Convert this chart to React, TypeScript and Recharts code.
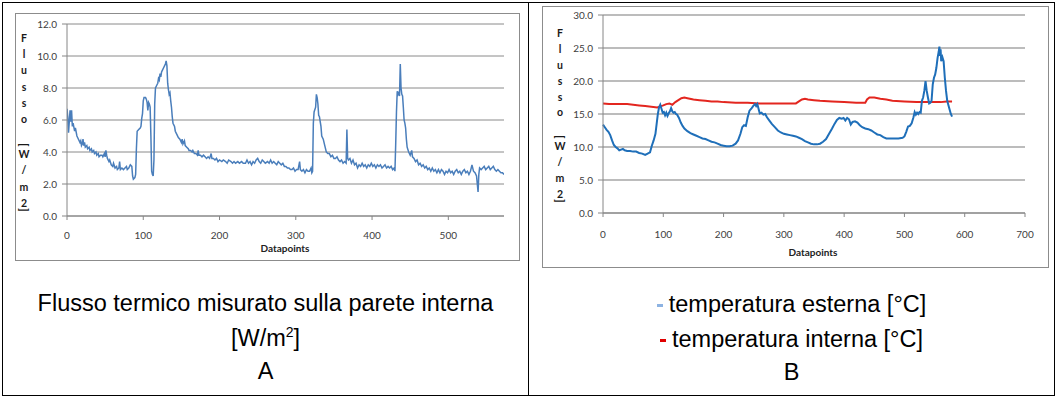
import React from 'react';
import { LineChart, Line, XAxis, YAxis, CartesianGrid } from 'recharts';

// Chart A: heat flux on the inner wall [W/m2], one reading per datapoint
const fluxPoints: [number, number][] = [
  [0, 6.7], [1, 6.2], [2, 5.2], [3, 5.9], [4, 6.6], [5, 5.9], [6, 6.6], [7, 5.6], [8, 5.8], [10, 5.3],
  [11, 5.5], [13, 5.0], [15, 4.8], [17, 4.6], [18, 4.7], [19, 4.4], [20, 4.5], [21, 4.8], [22, 4.4], [23, 4.6],
  [24, 4.3], [26, 4.4], [27, 4.2], [29, 4.3], [30, 4.1], [32, 4.2], [33, 4.0], [35, 4.1], [36, 3.9], [38, 4.0],
  [39, 3.8], [41, 3.9], [42, 3.7], [44, 3.8], [46, 3.8], [47, 3.7], [49, 3.9], [50, 3.7], [51, 4.1], [52, 3.8],
  [53, 3.6], [55, 3.4], [56, 3.5], [58, 3.2], [60, 3.1], [61, 3.3], [63, 3.0], [65, 3.1], [66, 2.9], [68, 3.0],
  [69, 3.4], [70, 2.9], [72, 3.0], [74, 2.9], [76, 3.0], [78, 3.1], [79, 2.9], [81, 3.0], [83, 3.2], [85, 3.1],
  [86, 2.5], [87, 2.3], [89, 2.4], [90, 2.6], [91, 4.2], [92, 5.3], [94, 5.4], [96, 5.5], [97, 5.6], [98, 6.1],
  [99, 6.4], [100, 7.2], [101, 7.4], [103, 7.4], [104, 7.3], [105, 7.1], [106, 6.6], [107, 7.1], [108, 7.0], [109, 6.8],
  [110, 5.0], [111, 2.8], [112, 2.6], [113, 2.5], [114, 3.5], [115, 7.0], [116, 8.0], [118, 8.2], [119, 8.3], [120, 8.6],
  [121, 8.5], [122, 8.9], [123, 8.7], [124, 9.0], [125, 9.1], [127, 9.3], [128, 9.4], [129, 9.5], [130, 9.7], [131, 9.4],
  [132, 8.3], [133, 7.9], [134, 7.6], [135, 7.7], [136, 7.2], [137, 6.8], [138, 6.2], [139, 5.8], [141, 5.6], [142, 5.3],
  [144, 5.1], [146, 4.9], [148, 4.8], [150, 4.6], [151, 4.8], [152, 4.5], [154, 4.7], [155, 4.4], [157, 4.3], [159, 4.2],
  [160, 4.1], [162, 4.1], [164, 4.0], [165, 4.1], [167, 3.9], [169, 3.9], [171, 3.8], [172, 4.1], [173, 3.8], [175, 3.8],
  [177, 3.7], [179, 3.8], [181, 3.7], [183, 3.6], [185, 3.7], [187, 3.6], [189, 3.9], [190, 3.6], [192, 3.6], [194, 3.5],
  [196, 3.6], [198, 3.4], [200, 3.5], [203, 3.4], [205, 3.5], [208, 3.4], [210, 3.3], [212, 3.5], [215, 3.4], [217, 3.3],
  [219, 3.4], [221, 3.3], [224, 3.4], [226, 3.3], [229, 3.4], [231, 3.3], [234, 3.3], [236, 3.5], [238, 3.3], [240, 3.4],
  [242, 3.2], [244, 3.4], [246, 3.3], [248, 3.5], [250, 3.6], [252, 3.4], [254, 3.3], [256, 3.5], [258, 3.4], [260, 3.3],
  [263, 3.4], [265, 3.3], [267, 3.5], [269, 3.3], [271, 3.4], [273, 3.3], [275, 3.2], [277, 3.4], [279, 3.3], [281, 3.2],
  [283, 3.3], [285, 3.1], [287, 3.1], [289, 3.0], [291, 3.0], [293, 2.9], [295, 2.9], [297, 3.0], [299, 2.8], [301, 2.9],
  [303, 2.9], [305, 3.4], [306, 2.9], [308, 2.8], [310, 2.9], [312, 2.7], [314, 2.9], [316, 2.8], [318, 2.8], [320, 3.0],
  [321, 2.7], [322, 2.8], [323, 5.8], [324, 6.5], [326, 6.8], [327, 7.6], [328, 7.4], [329, 7.0], [330, 6.3], [331, 6.2],
  [333, 5.6], [334, 5.0], [336, 4.8], [338, 4.4], [340, 4.0], [342, 3.9], [344, 3.9], [346, 3.7], [348, 3.8], [350, 3.6],
  [352, 3.6], [354, 3.7], [356, 3.5], [358, 3.4], [360, 3.5], [362, 3.3], [364, 3.4], [366, 3.3], [367, 5.4], [368, 3.6],
  [369, 3.5], [371, 3.6], [373, 3.3], [375, 3.5], [377, 3.2], [379, 3.3], [381, 3.0], [383, 3.2], [385, 3.1], [387, 3.3],
  [389, 3.1], [391, 3.2], [393, 3.0], [395, 3.2], [397, 3.1], [399, 3.3], [401, 3.1], [403, 3.2], [405, 3.0], [407, 3.2],
  [409, 3.1], [411, 3.2], [413, 3.0], [415, 3.1], [417, 3.2], [419, 3.0], [421, 3.1], [423, 3.0], [425, 3.1], [427, 2.9],
  [429, 3.0], [430, 2.8], [431, 4.5], [432, 6.5], [433, 7.8], [434, 7.6], [435, 7.7], [436, 7.5], [437, 9.5], [438, 8.0],
  [439, 7.6], [440, 7.5], [441, 6.8], [442, 6.0], [443, 5.8], [444, 5.5], [445, 4.8], [446, 4.3], [448, 4.0], [450, 3.8],
  [452, 4.1], [453, 3.7], [455, 3.6], [457, 3.4], [459, 3.5], [461, 3.2], [463, 3.3], [465, 3.1], [467, 3.2], [469, 3.0],
  [471, 3.1], [473, 2.9], [475, 3.0], [477, 2.8], [479, 3.0], [481, 2.8], [483, 2.9], [485, 2.7], [487, 2.9], [489, 2.7],
  [491, 2.9], [493, 2.8], [495, 2.6], [497, 2.8], [499, 2.7], [501, 2.9], [503, 2.7], [505, 2.8], [507, 2.6], [509, 2.8],
  [511, 2.9], [513, 2.7], [515, 2.8], [517, 2.6], [519, 2.8], [521, 2.9], [523, 2.7], [525, 2.8], [527, 2.6], [529, 2.8],
  [531, 3.2], [533, 2.8], [535, 2.7], [537, 2.5], [538, 2.0], [539, 1.5], [540, 2.6], [541, 3.0], [543, 2.9], [545, 3.0],
  [547, 3.1], [549, 2.9], [551, 3.0], [553, 3.1], [555, 2.9], [557, 3.0], [559, 3.1], [561, 2.9], [563, 2.8], [565, 2.9],
  [567, 2.8], [569, 2.7], [571, 2.7], [573, 2.6],
];

// Chart B: outdoor temperature [°C]
const esternaPoints: [number, number][] = [
  [0, 13.4], [3, 13.0], [6, 12.6], [9, 12.3], [12, 11.8], [15, 11.0], [18, 10.3], [21, 10.0], [24, 9.8], [27, 9.5],
  [30, 9.6], [33, 9.7], [36, 9.5], [40, 9.4], [45, 9.4], [50, 9.3], [55, 9.3], [60, 9.1], [65, 9.0], [70, 8.8],
  [74, 9.0], [78, 9.2], [81, 10.2], [84, 11.0], [87, 12.0], [89, 13.5], [91, 15.0], [93, 16.0], [95, 16.4], [97, 15.8],
  [99, 15.2], [101, 15.3], [103, 14.8], [105, 15.2], [107, 14.7], [109, 15.1], [111, 15.4], [113, 15.9], [115, 15.4], [117, 15.2],
  [119, 15.3], [121, 15.0], [123, 14.9], [126, 14.4], [129, 13.7], [132, 13.2], [135, 12.8], [140, 12.4], [145, 12.1], [150, 11.9],
  [155, 11.7], [160, 11.5], [165, 11.3], [170, 11.2], [175, 11.0], [180, 10.8], [185, 10.7], [190, 10.5], [195, 10.3], [200, 10.2],
  [205, 10.1], [210, 10.1], [215, 10.2], [220, 10.5], [224, 11.0], [228, 12.0], [231, 13.0], [234, 13.3], [237, 13.2], [240, 14.5],
  [243, 15.5], [246, 15.8], [249, 16.2], [252, 16.5], [254, 16.2], [256, 16.5], [258, 15.8], [260, 15.1], [263, 15.2], [266, 14.9],
  [269, 15.0], [272, 14.5], [276, 14.0], [280, 13.5], [285, 13.0], [290, 12.5], [295, 12.2], [300, 12.0], [305, 11.9], [310, 11.8],
  [315, 11.7], [320, 11.6], [325, 11.4], [330, 11.2], [335, 10.9], [340, 10.7], [345, 10.5], [350, 10.4], [355, 10.4], [360, 10.5],
  [365, 10.8], [370, 11.2], [375, 12.0], [380, 12.8], [384, 13.5], [388, 14.1], [392, 14.4], [396, 14.3], [399, 14.4], [402, 14.0],
  [405, 14.4], [408, 14.2], [411, 13.4], [414, 13.8], [418, 13.9], [422, 13.7], [426, 13.3], [430, 13.0], [435, 12.8], [440, 12.7],
  [445, 12.5], [450, 12.2], [455, 11.9], [460, 11.8], [465, 11.5], [470, 11.3], [480, 11.3], [490, 11.3], [497, 11.4], [500, 11.6],
  [503, 12.3], [506, 13.1], [509, 13.2], [512, 13.6], [515, 14.5], [517, 15.3], [519, 14.9], [521, 15.2], [523, 15.0], [525, 15.3],
  [527, 15.2], [529, 17.0], [531, 17.5], [533, 18.5], [535, 20.0], [537, 18.5], [539, 17.5], [541, 16.6], [543, 16.7], [545, 17.0],
  [547, 19.5], [549, 20.5], [551, 21.0], [553, 22.0], [555, 23.5], [557, 24.5], [558, 25.2], [559, 23.8], [560, 24.8], [561, 23.0],
  [563, 23.6], [565, 23.0], [567, 20.5], [569, 18.5], [571, 17.0], [574, 16.0], [577, 15.0], [579, 14.6],
];

// Chart B: indoor temperature [°C]
const internaPoints: [number, number][] = [
  [0, 16.6], [10, 16.5], [20, 16.5], [30, 16.5], [40, 16.5], [50, 16.4], [60, 16.3], [70, 16.2], [80, 16.1], [90, 16.0],
  [100, 16.3], [105, 16.5], [110, 16.6], [115, 16.4], [120, 16.8], [125, 17.1], [130, 17.4], [135, 17.5], [140, 17.4], [150, 17.2],
  [160, 17.1], [170, 17.0], [180, 16.9], [190, 16.9], [200, 16.8], [220, 16.7], [240, 16.7], [260, 16.6], [280, 16.6], [300, 16.6],
  [320, 16.6], [325, 16.9], [330, 17.2], [335, 17.3], [340, 17.2], [350, 17.1], [360, 17.0], [380, 16.9], [400, 16.8], [420, 16.7],
  [435, 16.7], [438, 17.2], [442, 17.5], [450, 17.5], [460, 17.3], [470, 17.2], [480, 17.0], [500, 16.9], [520, 16.8], [540, 16.8],
  [560, 16.8], [570, 16.9], [579, 16.9],
];

const fluxTicksY = [0, 2, 4, 6, 8, 10, 12];
const fluxTicksX = [0, 100, 200, 300, 400, 500];
const tempTicksY = [0, 5, 10, 15, 20, 25, 30];
const tempTicksX = [0, 100, 200, 300, 400, 500, 600, 700];

const yTitleChars = ['F', 'l', 'u', 's', 's', 'o', '[', 'W', '/', 'm', '2', ']'];
const yTitleOffsets = [0, 16.3, 32.6, 48.9, 65.2, 81.5, 107, 116, 132, 149, 165, 172];

const toRows = (pts: [number, number][]) => pts.map(([x, y]) => ({ x, y }));

const tickFont = { fontSize: 10, fill: '#404040', fontFamily: 'Lato, "DejaVu Sans", sans-serif' };
const caption: React.CSSProperties = {
  position: 'absolute',
  fontFamily: '"Liberation Sans", Arial, sans-serif',
  fontSize: 23.5,
  lineHeight: '23px',
  color: '#000',
  whiteSpace: 'nowrap',
  textAlign: 'center',
};

const YTitle = ({ x, top, scale }: { x: number; top: number; scale: number }) => (
  <>
    {yTitleChars.map((c, i) => (
      <div
        key={i}
        style={{
          position: 'absolute',
          left: x - 8,
          width: 16,
          top: top + yTitleOffsets[i] * scale - 7,
          height: 14,
          lineHeight: '14px',
          textAlign: 'center',
          fontFamily: 'Lato, sans-serif',
          fontWeight: 700,
          fontSize: 10.5,
          color: '#1a1a1a',
          transform: c === '[' || c === ']' ? 'rotate(90deg)' : undefined,
        }}
      >
        {c}
      </div>
    ))}
  </>
);

const FluxChart = () => (
  <LineChart width={505} height={247} data={toRows(fluxPoints)} margin={{ top: 11, right: 16, bottom: 14, left: 0 }}>
    <CartesianGrid vertical={false} stroke="#8a8a8a" />
    <XAxis
      type="number"
      dataKey="x"
      domain={[0, 573]}
      ticks={fluxTicksX}
      height={30}
      tick={tickFont}
      tickSize={4}
      tickMargin={12}
      stroke="#868686"
      allowDataOverflow
    />
    <YAxis
      type="number"
      domain={[0, 12]}
      ticks={fluxTicksY}
      width={52}
      tick={tickFont}
      tickSize={5}
      tickMargin={5}
      tickFormatter={(v: number) => v.toFixed(1)}
      stroke="#868686"
    />
    <Line type="linear" dataKey="y" stroke="#4a7ebb" strokeWidth={1.5} dot={false} isAnimationActive={false} />
  </LineChart>
);

const TempChart = () => (
  <LineChart width={505} height={260} margin={{ top: 9, right: 23, bottom: 23, left: 0 }}>
    <CartesianGrid vertical={false} stroke="#a6a6a6" strokeWidth={1.3} />
    <XAxis
      type="number"
      dataKey="x"
      domain={[0, 700]}
      ticks={tempTicksX}
      height={30}
      tick={tickFont}
      tickSize={4}
      tickMargin={14}
      stroke="#868686"
    />
    <YAxis
      type="number"
      domain={[0, 30]}
      ticks={tempTicksY}
      width={60}
      tick={tickFont}
      tickSize={5}
      tickMargin={5}
      tickFormatter={(v: number) => v.toFixed(1)}
      stroke="#868686"
    />
    <Line data={toRows(internaPoints)} type="linear" dataKey="y" stroke="#e3261f" strokeWidth={2} dot={false} isAnimationActive={false} />
    <Line data={toRows(esternaPoints)} type="linear" dataKey="y" stroke="#1f6fb9" strokeWidth={2} dot={false} isAnimationActive={false} />
  </LineChart>
);

const axisTitle: React.CSSProperties = {
  position: 'absolute',
  fontFamily: 'Lato, sans-serif',
  fontWeight: 700,
  fontSize: 10,
  color: '#222',
  textAlign: 'center',
  width: 100,
  lineHeight: '12px',
};

export default function App() {
  return (
    <div style={{ position: 'absolute', left: 0, top: 0, width: 1057, height: 398, background: '#fff', overflow: 'hidden' }}>
      {/* outer table frame */}
      <div style={{ position: 'absolute', left: 2, top: 2, width: 1051, height: 392, border: '1px solid #000' }} />
      <div style={{ position: 'absolute', left: 528, top: 2, width: 1, height: 394, background: '#000' }} />

      {/* chart A */}
      <div style={{ position: 'absolute', left: 15, top: 13, width: 503, height: 246, border: '1px solid #8c8c8c' }} />
      <div style={{ position: 'absolute', left: 15, top: 13 }}>
        <FluxChart />
      </div>
      <YTitle x={24} top={37.7} scale={1} />
      <div style={{ ...axisTitle, left: 235, top: 242 }}>Datapoints</div>

      {/* chart B */}
      <div style={{ position: 'absolute', left: 542, top: 6, width: 505, height: 260, border: '1px solid #8c8c8c' }} />
      <div style={{ position: 'absolute', left: 543, top: 6 }}>
        <TempChart />
      </div>
      <YTitle x={560} top={33} scale={0.975} />
      <div style={{ ...axisTitle, left: 763, top: 246 }}>Datapoints</div>

      {/* captions */}
      <div style={{ ...caption, left: 3, width: 525, top: 292 }}>Flusso termico misurato sulla parete interna</div>
      <div style={{ ...caption, left: 3, width: 525, top: 326.5 }}>
        [W/m<sup style={{ fontSize: 14, lineHeight: 0 }}>2</sup>]
      </div>
      <div style={{ ...caption, left: 3, width: 525, top: 360 }}>A</div>

      <div style={{ ...caption, left: 529, width: 525, top: 292.5 }}>
        <span style={{ display: 'inline-block', width: 6, height: 3, background: '#8db3e2', verticalAlign: 'middle', marginRight: 6 }} />
        temperatura esterna [°C]
      </div>
      <div style={{ ...caption, left: 529, width: 525, top: 327.5 }}>
        <span style={{ display: 'inline-block', width: 6, height: 3, background: '#e00000', verticalAlign: 'middle', marginRight: 6 }} />
        temperatura interna [°C]
      </div>
      <div style={{ ...caption, left: 529, width: 525, top: 361 }}>B</div>
    </div>
  );
}
